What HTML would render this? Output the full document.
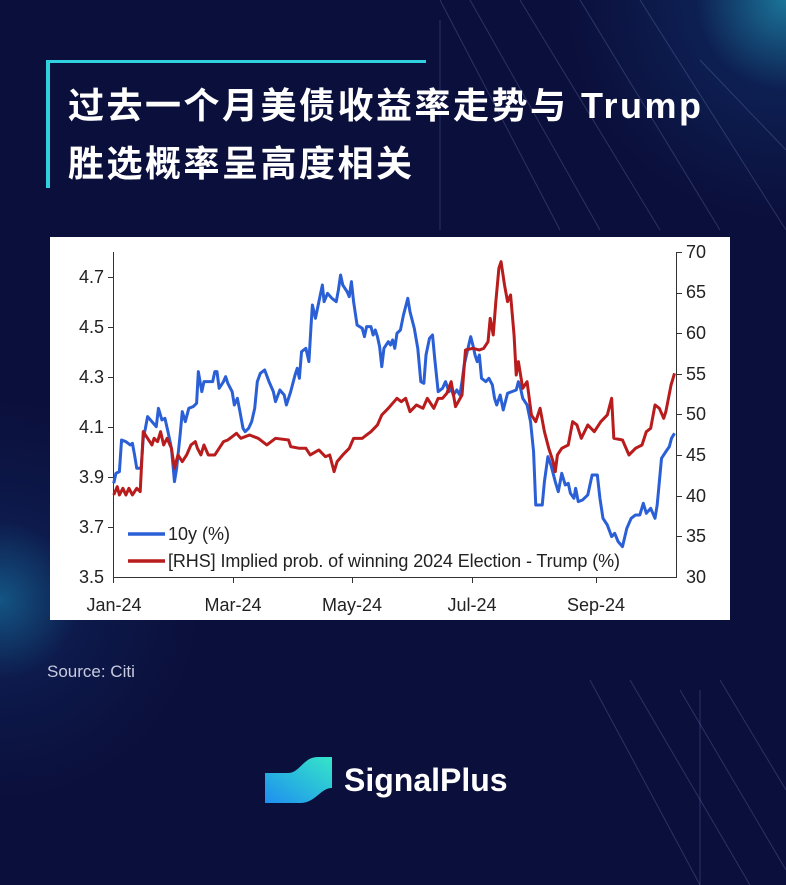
<!DOCTYPE html>
<html><head><meta charset="utf-8"><style>
html,body{margin:0;padding:0}
body{width:786px;height:885px;overflow:hidden;position:relative;background:#0a0e3c;font-family:"Liberation Sans","Noto Sans CJK SC",sans-serif}
.bg{position:absolute;inset:0;background:
radial-gradient(circle at 786px 0px,rgba(40,200,230,.55),rgba(20,80,150,.25) 90px,transparent 220px),
radial-gradient(circle at 0px 600px,rgba(30,170,220,.45),rgba(20,70,140,.2) 80px,transparent 200px),
#0b0f3b}
.t{position:absolute;left:68px;color:#fff;font-weight:bold;font-size:36px;font-family:"Liberation Sans","Noto Sans CJK SC",sans-serif;letter-spacing:2.5px;white-space:nowrap}
</style></head><body>
<div class="bg"></div>
<svg width="786" height="885" style="position:absolute;left:0;top:0">
<g stroke="rgba(140,160,220,.25)" stroke-width="1" fill="none">
<line x1="440" y1="0" x2="560" y2="230"/><line x1="470" y1="0" x2="600" y2="230"/>
<line x1="520" y1="0" x2="660" y2="230"/><line x1="580" y1="0" x2="720" y2="230"/>
<line x1="640" y1="0" x2="786" y2="230"/><line x1="700" y1="60" x2="786" y2="150"/>
<line x1="590" y1="680" x2="700" y2="885"/><line x1="630" y1="680" x2="750" y2="885"/>
<line x1="680" y1="690" x2="786" y2="870"/><line x1="720" y1="680" x2="786" y2="790"/>
<line x1="440" y1="20" x2="440" y2="230"/><line x1="700" y1="690" x2="700" y2="885"/>
</g>
<rect x="46" y="60" width="4" height="128" fill="#2fd0e0"/>
<rect x="46" y="60" width="380" height="3" fill="#2fd0e0"/>
<rect x="50" y="237" width="680" height="383" fill="#fff"/>
<g font-family="'Liberation Sans Narrow','Liberation Sans',sans-serif" font-size="18" fill="#222">
<g text-anchor="end">
<text x="104" y="283">4.7</text><text x="104" y="333">4.5</text><text x="104" y="383">4.3</text>
<text x="104" y="433">4.1</text><text x="104" y="483">3.9</text><text x="104" y="533">3.7</text><text x="104" y="583">3.5</text>
</g>
<g text-anchor="start">
<text x="686" y="258">70</text><text x="686" y="298">65</text><text x="686" y="339">60</text>
<text x="686" y="380">55</text><text x="686" y="420">50</text><text x="686" y="461">45</text>
<text x="686" y="502">40</text><text x="686" y="542">35</text><text x="686" y="583">30</text>
</g>
<g text-anchor="middle">
<text x="114" y="611">Jan-24</text><text x="233" y="611">Mar-24</text><text x="352" y="611">May-24</text>
<text x="472" y="611">Jul-24</text><text x="596" y="611">Sep-24</text>
</g>
<text x="168" y="540">10y (%)</text>
<text x="168" y="567" textLength="452">[RHS] Implied prob. of winning 2024 Election - Trump (%)</text>
</g>
<g stroke="#333" stroke-width="1" fill="none">
<line x1="113.5" y1="252" x2="113.5" y2="577"/><line x1="113" y1="577.5" x2="677" y2="577.5"/>
<line x1="676.5" y1="252" x2="676.5" y2="577"/>
<line x1="108" y1="277.5" x2="113" y2="277.5"/><line x1="108" y1="327.5" x2="113" y2="327.5"/>
<line x1="108" y1="377.5" x2="113" y2="377.5"/><line x1="108" y1="427.5" x2="113" y2="427.5"/>
<line x1="108" y1="477.5" x2="113" y2="477.5"/><line x1="108" y1="527.5" x2="113" y2="527.5"/>
<line x1="677" y1="252.5" x2="682" y2="252.5"/><line x1="677" y1="293.5" x2="682" y2="293.5"/>
<line x1="677" y1="333.5" x2="682" y2="333.5"/><line x1="677" y1="374.5" x2="682" y2="374.5"/>
<line x1="677" y1="414.5" x2="682" y2="414.5"/><line x1="677" y1="455.5" x2="682" y2="455.5"/>
<line x1="677" y1="496.5" x2="682" y2="496.5"/><line x1="677" y1="536.5" x2="682" y2="536.5"/>
<line x1="113.5" y1="577" x2="113.5" y2="583"/><line x1="233.5" y1="577" x2="233.5" y2="583"/>
<line x1="352.5" y1="577" x2="352.5" y2="583"/><line x1="472.5" y1="577" x2="472.5" y2="583"/>
<line x1="596.5" y1="577" x2="596.5" y2="583"/>
</g>
<line x1="128" y1="534" x2="165" y2="534" stroke="#2a5fd6" stroke-width="3.5"/>
<line x1="128" y1="561" x2="165" y2="561" stroke="#b81c1c" stroke-width="3.5"/>
<g transform="translate(50,235) scale(0.4337,0.3333)" fill="none" stroke-linejoin="round">
<polyline vector-effect="non-scaling-stroke" stroke="#2a5fd6" stroke-width="3" points="147,745 152,715 160,710 165,615 175,620 185,630 190,625 195,660 200,700 210,700 215,610 220,580 225,545 235,560 245,575 250,520 258,555 265,550 272,590 280,640 287,740 292,700 300,600 305,530 312,560 320,520 330,515 338,505 342,410 350,470 355,440 365,440 375,440 380,410 385,410 390,460 400,440 405,425 410,445 420,470 425,510 432,490 438,530 445,580 450,590 458,580 465,560 472,520 478,440 485,415 495,405 505,440 515,470 520,500 530,465 540,480 545,510 555,470 565,420 570,400 575,430 580,350 590,340 597,380 602,270 605,210 612,250 620,200 628,150 632,200 640,175 650,190 660,200 665,165 670,120 675,150 685,170 690,185 695,140 700,200 708,270 720,280 725,305 730,275 740,275 745,300 750,285 755,305 760,335 765,395 770,340 780,320 785,330 790,315 795,340 800,295 808,285 815,240 825,190 830,230 840,280 848,340 855,440 862,445 867,360 875,310 882,300 887,370 895,470 905,460 912,440 920,470 925,460 930,480 938,465 945,480 950,440 955,390 962,350 970,305 975,330 980,360 985,380 990,360 995,430 1005,440 1012,430 1020,450 1025,490 1030,510 1038,480 1045,525 1055,475 1065,470 1075,465 1080,440 1085,460 1090,490 1100,510 1108,560 1115,650 1120,810 1127,810 1135,810 1140,740 1148,665 1155,690 1165,740 1172,770 1180,715 1188,750 1195,745 1200,775 1208,790 1212,760 1218,800 1228,795 1240,780 1250,720 1262,720 1268,790 1275,850 1285,870 1295,905 1302,895 1310,920 1320,935 1330,880 1340,850 1350,840 1360,840 1368,805 1375,835 1385,820 1395,850 1400,810 1410,670 1420,650 1428,635 1433,610 1440,595"/>
<polyline vector-effect="non-scaling-stroke" stroke="#b81c1c" stroke-width="3" points="147,780 155,755 160,780 168,760 175,780 182,760 190,780 200,760 208,770 215,590 225,610 235,630 240,610 248,620 255,590 262,630 270,610 280,640 287,700 295,660 305,680 315,660 325,630 335,620 340,640 348,660 355,630 365,660 380,660 390,640 400,620 410,615 420,605 430,595 440,610 460,600 480,610 500,630 520,610 550,615 555,635 575,640 590,640 600,660 620,645 635,665 645,660 655,710 662,680 675,660 690,640 700,610 720,610 730,600 740,590 755,570 765,540 780,520 800,490 810,500 820,490 830,530 845,510 860,520 870,490 885,520 895,490 905,490 915,475 925,440 935,515 950,480 958,345 975,340 990,345 1000,340 1010,320 1015,250 1022,300 1028,200 1035,100 1040,80 1048,150 1055,200 1062,180 1070,300 1075,420 1080,380 1090,460 1100,440 1110,540 1120,560 1130,520 1140,590 1150,640 1160,680 1165,710 1170,660 1180,640 1195,630 1205,560 1215,570 1225,610 1240,570 1255,590 1270,560 1285,540 1295,490 1300,610 1320,615 1335,660 1350,640 1365,630 1375,590 1385,580 1395,510 1405,520 1415,550 1420,530 1432,450 1440,415"/>
</g>
<defs><linearGradient id="lg" x1="0" y1="1" x2="1" y2="0"><stop offset="0" stop-color="#1e8ff0"/><stop offset="1" stop-color="#35e6c8"/></linearGradient></defs>
<path d="M265 773 L288 773 C300 773 303 757 318 757 L332 757 L332 788 C320 788 316 803 300 803 L265 803 Z" fill="url(#lg)"/>
<text x="344" y="791" fill="#fff" font-size="32" font-weight="bold" font-family="'Liberation Sans',sans-serif">SignalPlus</text>
<text x="47" y="677" fill="#c8cbe0" font-size="17" font-family="'Liberation Sans',sans-serif">Source: Citi</text>
</svg>
<div class="t" style="top:77px">过去一个月美债收益率走势与 Trump</div>
<div class="t" style="top:135px">胜选概率呈高度相关</div>
</body></html>
